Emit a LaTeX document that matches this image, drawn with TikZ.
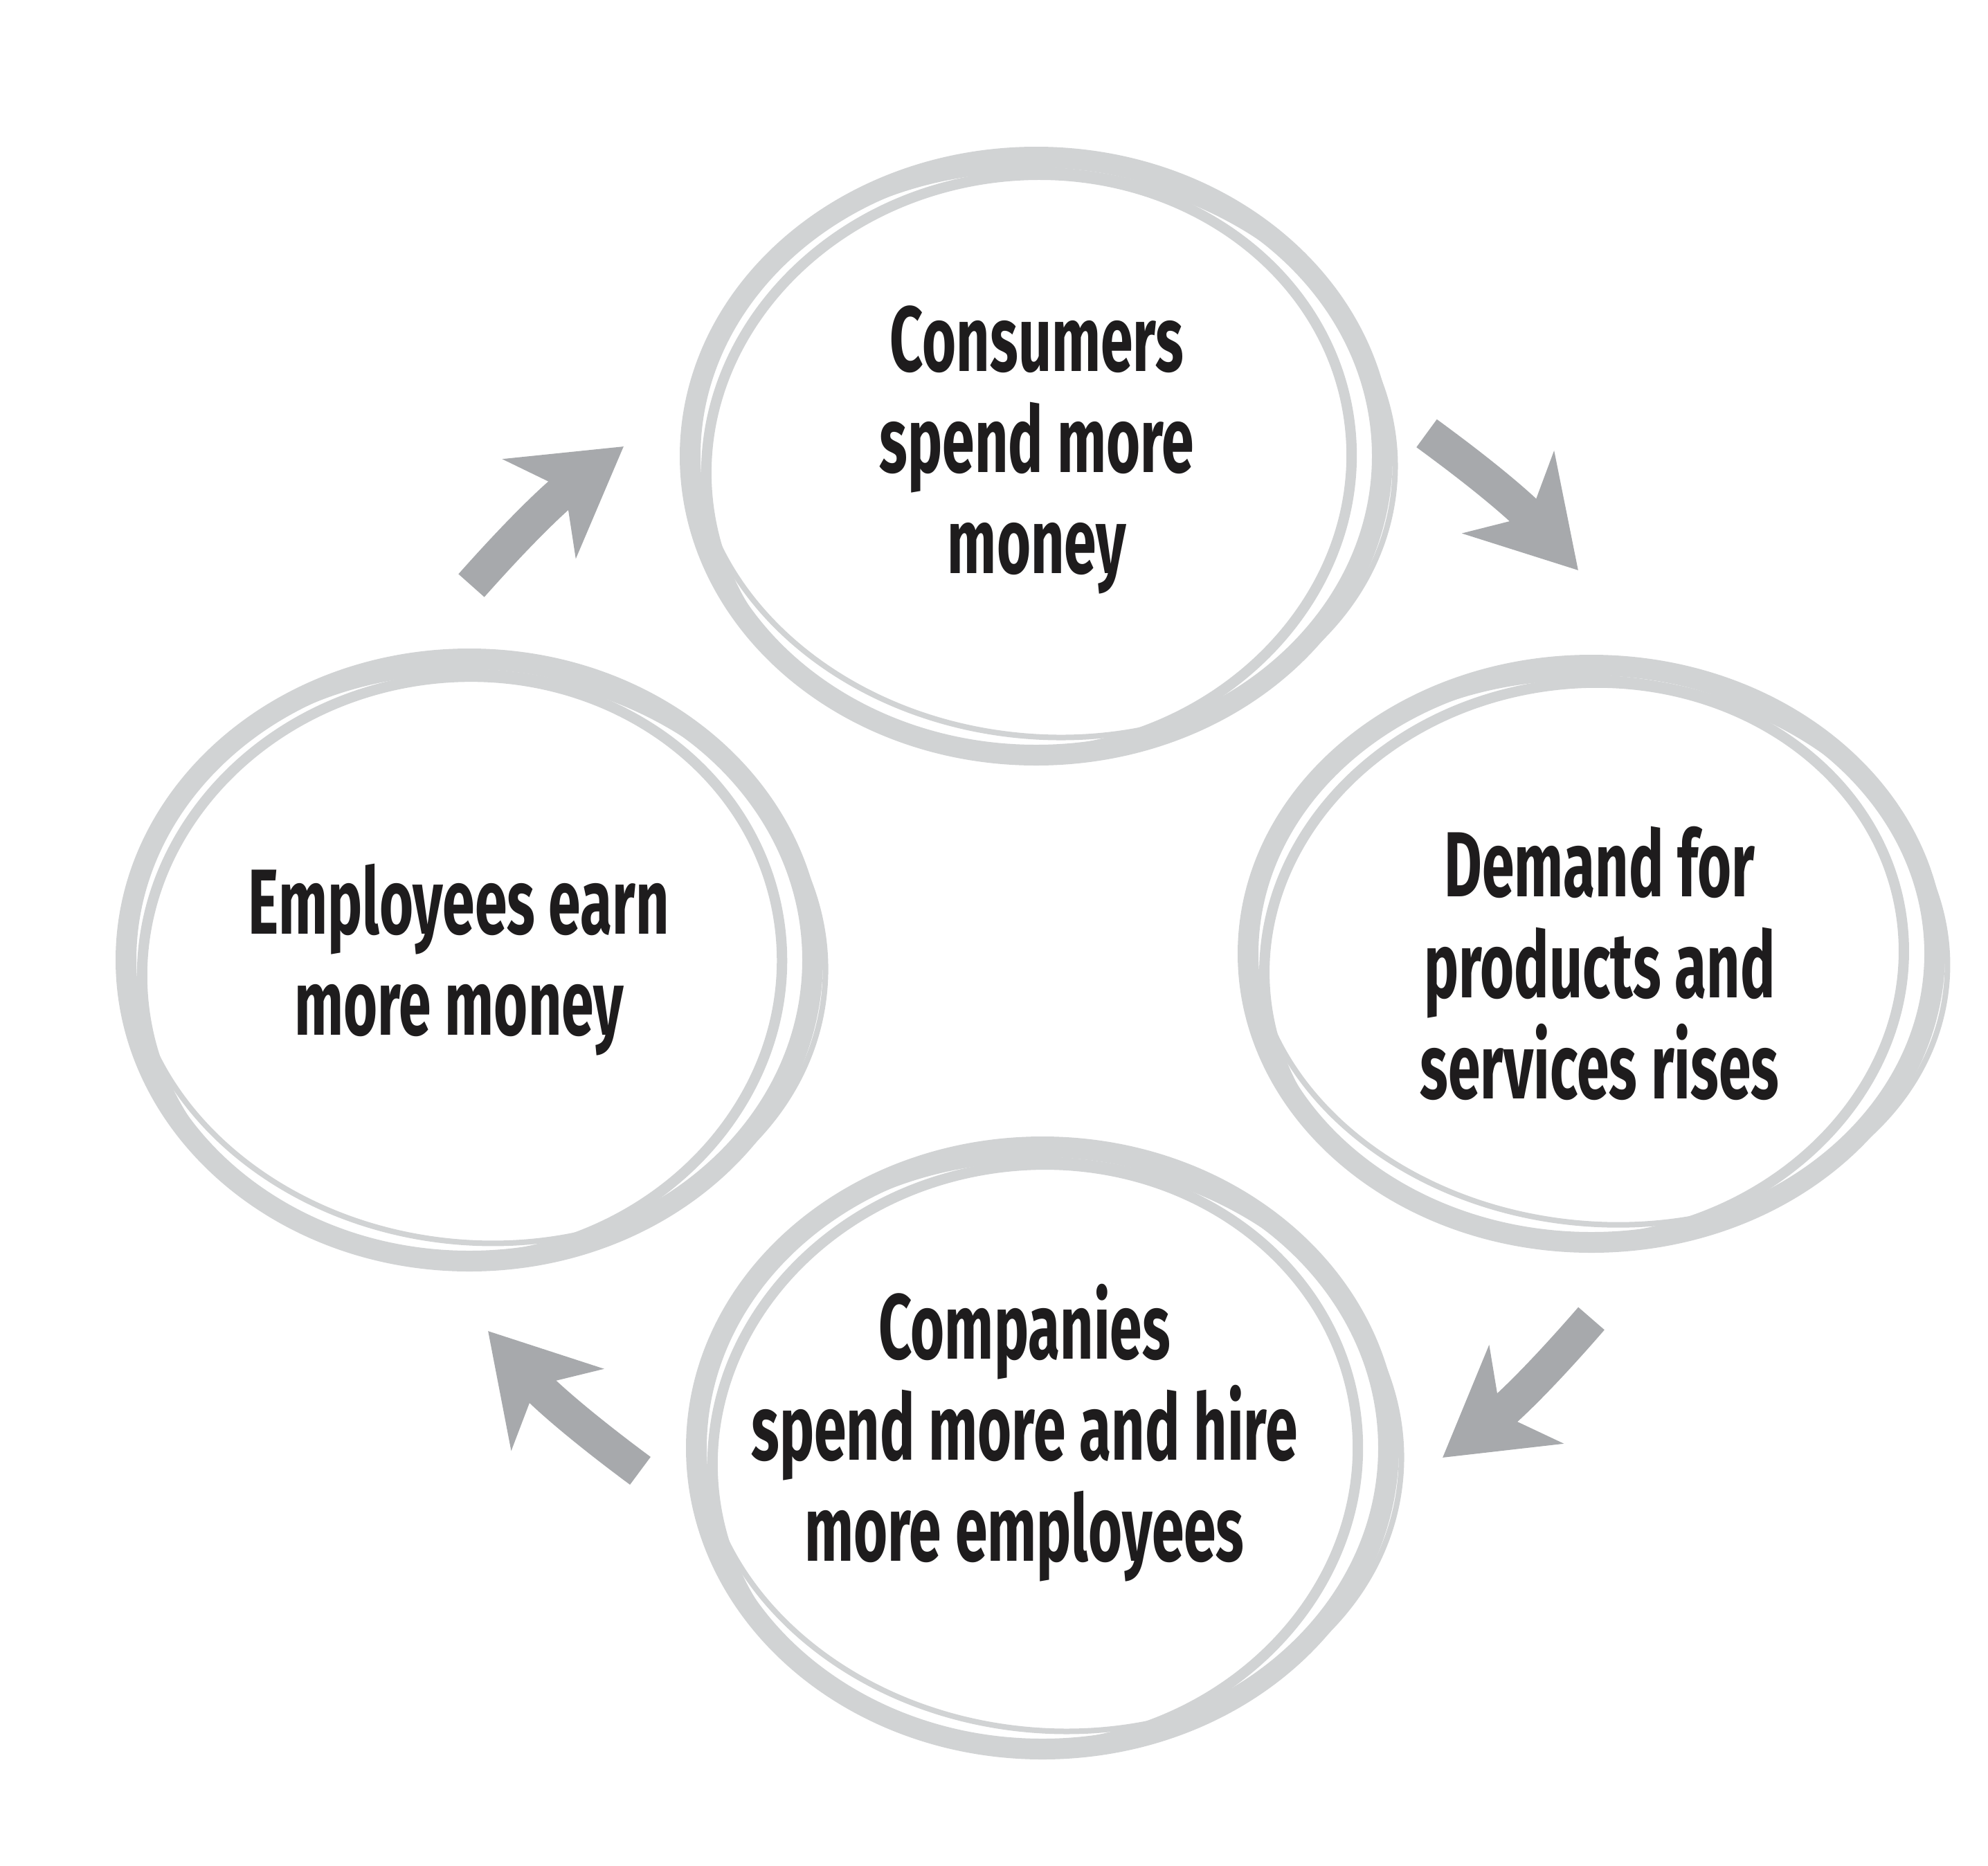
\documentclass[tikz,border=0pt]{standalone}
\usepackage{fontspec}
\newfontfamily\loopfont[FakeStretch=0.63]{Fira Sans}
\usetikzlibrary{arrows.meta}
\definecolor{ringgray}{RGB}{209,211,212}
\definecolor{arrowgray}{RGB}{167,169,172}
\definecolor{inkblack}{RGB}{30,28,29}
\tikzset{
  stagetext/.style={align=center, text=inkblack,
    font=\loopfont\bfseries\fontsize{38}{41.5}\selectfont},
  looparrow/.style={arrowgray, line width=0.5cm,
    -{Stealth[length=1.5cm, width=1.75cm, inset=0.45cm]}}
}
% hand drawn ring: centre, x radius, y radius
\newcommand{\sketchring}[3]{%
  \begin{scope}[shift={(#1)}]
    \draw[ringgray, line width=0.3cm] (0,0) ellipse [x radius=#2-0.17, y radius=#3-0.17];
    \draw[ringgray, line width=0.15cm, rotate=8] (-0.12,-0.1) ellipse [x radius=#2-0.5, y radius=#3-0.32];
    \draw[ringgray, line width=0.08cm, rotate=-6] (0.12,0.05) ellipse [x radius=#2-0.1, y radius=#3-0.4];
  \end{scope}}
\begin{document}
\begin{tikzpicture}
  \useasboundingbox (0,0) rectangle (28.72,-26.96);
  % rings
  \sketchring{14.97,-6.59}{5.17}{4.49}
  \sketchring{22.99,-13.78}{5.13}{4.34}
  \sketchring{6.78,-13.87}{5.13}{4.52}
  \sketchring{15.06,-20.92}{5.17}{4.52}
  % stages
  \node[stagetext] (cons) at (14.98,-6.50) {Consumers\\spend more\\money};
  \node[stagetext] (dem) at (23.11,-13.92) {Demand for\\products and\\services rises};
  \node[stagetext] (comp) at (14.80,-20.70) {Companies\\spend more and hire\\more employees};
  \node[stagetext] (emp) at (6.63,-13.87) {Employees earn\\more money};
  % arrow ends
  \coordinate (a1s) at (6.81,-8.46);
  \coordinate (a1e) at (9.01,-6.45);
  \coordinate (a2s) at (20.61,-6.26);
  \coordinate (a2e) at (22.80,-8.24);
  \coordinate (a3s) at (22.99,-19.05);
  \coordinate (a3e) at (20.84,-21.06);
  \coordinate (a4s) at (9.25,-21.25);
  \coordinate (a4e) at (7.05,-19.23);
  \begin{scope}[looparrow]
    \draw (a1s) to[bend left=6] (a1e);
    \draw (a2s) to[bend left=6] (a2e);
    \draw (a3s) to[bend left=6] (a3e);
    \draw (a4s) to[bend left=6] (a4e);
  \end{scope}
\end{tikzpicture}
\end{document}
